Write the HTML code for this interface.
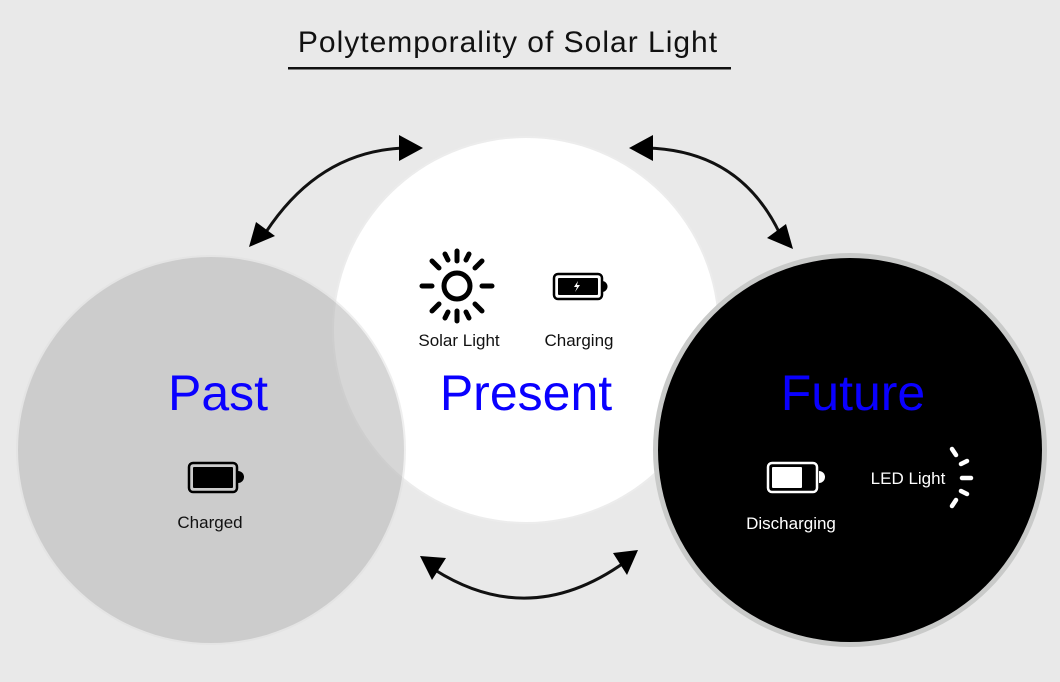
<!DOCTYPE html>
<html><head><style>
html,body{margin:0;padding:0;background:#e9e9e9;}
svg{display:block;font-family:"Liberation Sans",sans-serif;}
</style></head><body>
<svg width="1060" height="682" viewBox="0 0 1060 682">
<rect width="1060" height="682" fill="#e9e9e9"/>
<text x="508" y="52" text-anchor="middle" font-size="30" fill="#111" letter-spacing="1">Polytemporality of Solar Light</text>
<rect x="288" y="67" width="443" height="2.5" fill="#111"/>
<circle cx="526" cy="330" r="194" fill="#ececec"/>
<circle cx="526" cy="330" r="192" fill="#fff"/>
<circle cx="211" cy="450" r="195" fill="#e0e0e0" opacity="0.5"/>
<circle cx="211" cy="450" r="193" fill="rgba(0,0,0,0.1)"/>
<circle cx="850" cy="450" r="197" fill="#c9cac9"/>
<circle cx="850" cy="450" r="192" fill="#000"/>
<g stroke="#111" stroke-width="3" fill="none">
<path d="M266 232 Q320 150 406 148"/>
<path d="M646 148 Q740 150 780 234"/>
<path d="M435 570 Q530 630 625 562"/>
</g>
<g fill="#000">
<path d="M249 247 L256 222 L275 236 Z"/>
<path d="M423 148 L399 135 L399 161 Z"/>
<path d="M629 148 L653 135 L653 161 Z"/>
<path d="M793 249 L786 224 L767 238 Z"/>
<path d="M420 556 L446 558 L432 580 Z"/>
<path d="M638 550 L613 553 L627 575 Z"/>
</g>
<!-- sun -->
<g stroke="#000" stroke-width="5" stroke-linecap="round" fill="none">
<circle cx="457" cy="286" r="13"/>
<path d="M457 251v10M457 311v10M422 286h10M482 286h10M432 261l7 7M475 304l7 7M432 311l7-7M475 268l7-7"/>
<path d="M445 254l3 6M466 312l3 6M445 318l3-6M466 260l3-6"/>
</g>
<text x="459" y="346" text-anchor="middle" font-size="17" fill="#111">Solar Light</text>
<rect x="554" y="274" width="48" height="25" rx="4" fill="none" stroke="#000" stroke-width="2.5"/>
<rect x="558" y="278" width="40" height="17" rx="1" fill="#000"/>
<path d="M602 281 a5 5 0 0 1 0 11z" fill="#000"/>
<path d="M578 281 l-4 6 h3 l-2 5 l5-7 h-3z" fill="#fff"/>
<text x="579" y="346" text-anchor="middle" font-size="17" fill="#111">Charging</text>
<text x="218" y="410" text-anchor="middle" font-size="50" fill="#0a00ff">Past</text>
<text x="526" y="410" text-anchor="middle" font-size="50" fill="#0a00ff">Present</text>
<text x="853" y="410" text-anchor="middle" font-size="50" fill="#0a00ff">Future</text>
<rect x="189" y="463" width="48" height="29" rx="4" fill="none" stroke="#000" stroke-width="2.5"/>
<rect x="193" y="467" width="40" height="21" rx="1" fill="#000"/>
<path d="M238 471 a5 5 0 0 1 0 12z" fill="#000"/>
<text x="210" y="528" text-anchor="middle" font-size="17" fill="#111">Charged</text>
<rect x="768" y="463" width="49" height="29" rx="4" fill="none" stroke="#fff" stroke-width="2.5"/>
<rect x="772" y="467" width="30" height="21" rx="1" fill="#fff"/>
<path d="M819 471 a5 5 0 0 1 0 12z" fill="#fff"/>
<text x="791" y="529" text-anchor="middle" font-size="17" fill="#fff">Discharging</text>
<text x="908" y="484" text-anchor="middle" font-size="17" fill="#fff">LED Light</text>
<g stroke="#fff" stroke-width="4.5" stroke-linecap="round">
<path d="M952 449l4 6M961 464l6-3M962 478h9M961 491l6 3M952 506l4-6"/>
</g>
</svg>
</body></html>
